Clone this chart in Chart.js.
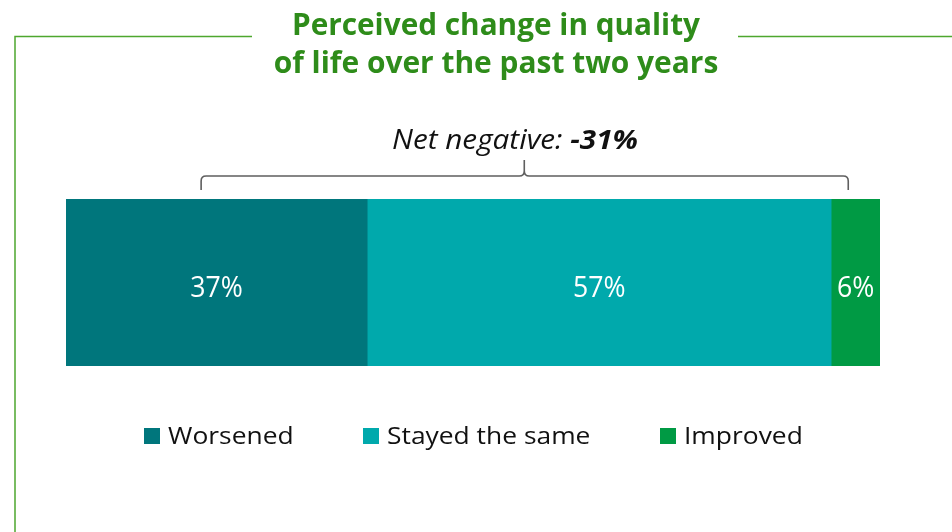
<!DOCTYPE html>
<html><head><meta charset="utf-8">
<script src="https://cdn.jsdelivr.net/npm/chart.js@4/dist/chart.umd.min.js"></script>
<style>html,body{margin:0;padding:0;background:#fff}#wrap{width:952px;height:532px;position:relative}</style>
</head><body><div id="wrap"><canvas id="c" width="952" height="532"></canvas></div>
<script>
// ---- data ----
const categories = ['Quality of life'];
const seriesLabels = ['Worsened', 'Stayed the same', 'Improved'];
const worsened = [37];
const stayedSame = [57];
const improved = [6];
const titleLines = ['Perceived change in quality', 'of life over the past two years'];
const netText = ['Net negative: ', '-31%'];
const bracketValues = [16.6, 56.3, 96.1]; // left end, peak, right end (value units)

const seriesColors = ['#00767c', '#00a9ac', '#009a44'];
const FONT = '"Open Sans", "Noto Sans", sans-serif';

function txt(ctx, s, x, y, font, color, align, sx) {
  ctx.save();
  ctx.font = font;
  ctx.fillStyle = color;
  ctx.textBaseline = 'alphabetic';
  const w = ctx.measureText(s).width * sx;
  let x0 = x;
  if (align === 'center') x0 = x - w / 2;
  else if (align === 'right') x0 = x - w;
  ctx.translate(x0, y);
  ctx.scale(sx, 1);
  ctx.textAlign = 'left';
  ctx.fillText(s, 0, 0);
  ctx.restore();
  return w;
}
function tw(ctx, s, font, sx) { ctx.save(); ctx.font = font; const w = ctx.measureText(s).width * sx; ctx.restore(); return w; }

const decor = {
  id: 'decor',
  afterDraw(chart) {
    const ctx = chart.ctx;
    const xs = chart.scales.x;
    // frame
    ctx.save();
    ctx.strokeStyle = '#4ea72e';
    ctx.lineWidth = 1.5;
    ctx.beginPath();
    ctx.moveTo(252, 36.5); ctx.lineTo(15, 36.5); ctx.lineTo(15, 532);
    ctx.moveTo(738, 36.5); ctx.lineTo(952, 36.5);
    ctx.stroke();
    ctx.restore();
    // title
    const tf = 'bold 31px ' + FONT;
    txt(ctx, titleLines[0], 496, 35, tf, '#2e8c1a', 'center', 0.96);
    txt(ctx, titleLines[1], 496, 72.5, tf, '#2e8c1a', 'center', 0.965);
    // net label
    const f1 = 'italic 27px ' + FONT, f2 = 'italic bold 27px ' + FONT;
    const s = 1.1;
    const w1 = tw(ctx, netText[0], f1, s), w2 = tw(ctx, netText[1], f2, s);
    const nx = 515 - (w1 + w2) / 2;
    txt(ctx, netText[0], nx, 149, f1, '#111', 'left', s);
    txt(ctx, netText[1], nx + w1, 149, f2, '#111', 'left', s);
    // bracket
    const xl = xs.getPixelForValue(bracketValues[0]);
    const xm = xs.getPixelForValue(bracketValues[1]);
    const xr = xs.getPixelForValue(bracketValues[2]);
    const yb = 176, r = 5;
    ctx.save();
    ctx.strokeStyle = '#5f5f5f';
    ctx.lineWidth = 1.6;
    ctx.beginPath();
    ctx.moveTo(xl, 190); ctx.lineTo(xl, yb + r); ctx.quadraticCurveTo(xl, yb, xl + r, yb);
    ctx.lineTo(xm - r, yb); ctx.quadraticCurveTo(xm, yb, xm, yb - r); ctx.lineTo(xm, 160);
    ctx.moveTo(xm, yb - r); ctx.quadraticCurveTo(xm, yb, xm + r, yb);
    ctx.lineTo(xr - r, yb); ctx.quadraticCurveTo(xr, yb, xr, yb + r); ctx.lineTo(xr, 190);
    ctx.stroke();
    ctx.restore();
    // bar labels
    chart.data.datasets.forEach((ds, i) => {
      const meta = chart.getDatasetMeta(i);
      meta.data.forEach((el, j) => {
        const cx = (el.x + el.base) / 2;
        txt(ctx, ds.data[j] + '%', cx, el.y + 14.5, '29px ' + FONT, '#ffffff', 'center', 0.92);
      });
    });
    // legend
    const legX = [144, 363, 660];
    chart.data.datasets.forEach((ds, i) => {
      ctx.fillStyle = ds.backgroundColor;
      ctx.fillRect(legX[i], 428, 16, 16);
      txt(ctx, ds.label, legX[i] + 24, 444.3, '24px ' + FONT, '#111', 'left', 1.1);
    });
  }
};

new Chart(document.getElementById('c'), {
  type: 'bar',
  data: {
    labels: categories,
    datasets: [
      { label: seriesLabels[0], data: worsened, backgroundColor: seriesColors[0] },
      { label: seriesLabels[1], data: stayedSame, backgroundColor: seriesColors[1] },
      { label: seriesLabels[2], data: improved, backgroundColor: seriesColors[2] }
    ].map(d => Object.assign(d, { barPercentage: 1, categoryPercentage: 1, borderWidth: 0 }))
  },
  options: {
    indexAxis: 'y',
    responsive: false,
    animation: false,
    devicePixelRatio: 1,
    layout: { padding: { left: 66, right: 72, top: 199, bottom: 166 } },
    scales: {
      x: { stacked: true, min: 0, max: 100, display: false },
      y: { stacked: true, display: false }
    },
    plugins: { legend: { display: false }, title: { display: false }, tooltip: { enabled: false } }
  },
  plugins: [decor]
});
</script></body></html>
